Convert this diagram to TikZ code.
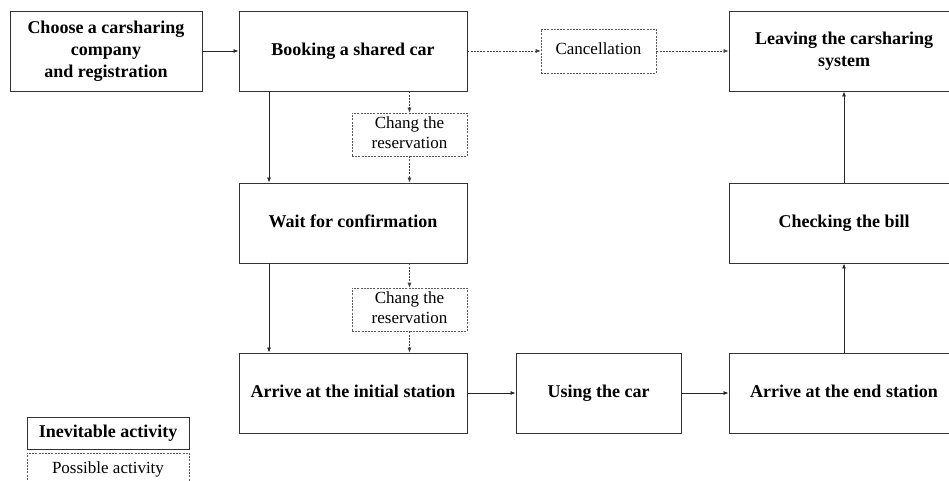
\documentclass[tikz,border=0pt]{standalone}
\usepackage{fontspec}
\setmainfont{Liberation Serif}
\usetikzlibrary{arrows.meta}
\newcommand\mystrut{\rule[-4pt]{0pt}{16pt}}
\begin{document}
\begin{tikzpicture}[x=1pt,y=-1pt,
  solidbox/.style={draw=black!80, line width=0.9pt, rectangle, align=center, inner sep=0pt, font=\fontsize{18}{22}\selectfont\bfseries},
  dashbox/.style={draw=black!65, line width=0.6pt, dash pattern=on 2pt off 1.2pt, rectangle, align=center, inner sep=0pt, font=\fontsize{17}{20}\selectfont},
  arr/.style={draw=black!85, line width=0.8pt, -{Latex[length=5pt,width=4pt]}},
  darr/.style={draw=black!75, line width=0.6pt, dash pattern=on 2pt off 1.2pt, -{Latex[length=5pt,width=4pt]}}
]
\useasboundingbox (0,0) rectangle (949,481);
\begin{scope}
\clip (0,0) rectangle (949,481);
\node[solidbox, minimum width=192pt, minimum height=80pt] (choose) at (106,51) {\mystrut Choose a carsharing\\company\\and registration\mystrut};
\node[solidbox, minimum width=228pt, minimum height=80pt] (book) at (353,51) {\mystrut Booking a shared car};
\node[dashbox, minimum width=115pt, minimum height=44pt] (cancel) at (598.5,51) {\mystrut Cancellation};
\node[solidbox, minimum width=230pt, minimum height=80pt] (leave) at (844,51) {\mystrut Leaving the carsharing\\system\mystrut};
\node[dashbox, minimum width=115pt, minimum height=43pt] (chg1) at (409.5,134.5) {\mystrut Chang the\\reservation\mystrut};
\node[solidbox, minimum width=228pt, minimum height=80pt] (wait) at (353,223) {\mystrut Wait for confirmation};
\node[solidbox, minimum width=230pt, minimum height=80pt] (bill) at (844,223) {\mystrut Checking the bill};
\node[dashbox, minimum width=115pt, minimum height=43pt] (chg2) at (409.5,309.5) {\mystrut Chang the\\reservation\mystrut};
\node[solidbox, minimum width=228pt, minimum height=80pt] (arrini) at (353,393) {\mystrut Arrive at the initial station};
\node[solidbox, minimum width=165pt, minimum height=80pt] (use) at (598.5,393) {\mystrut Using the car};
\node[solidbox, minimum width=230pt, minimum height=80pt] (arrend) at (844,393) {\mystrut Arrive at the end station};
\node[solidbox, minimum width=162pt, minimum height=32pt] (leg1) at (108,433) {\mystrut Inevitable activity};
\node[dashbox, minimum width=162pt, minimum height=32pt] (leg2) at (108,469) {\mystrut Possible activity};
\end{scope}
\draw[arr] (choose) -- (book);
\draw[darr] (book) -- (cancel);
\draw[darr] (cancel) -- (leave.west |- cancel);
\draw[arr] (book.south -| 269,0) -- (wait.north -| 269,0);
\draw[darr] (book.south -| chg1) -- (chg1);
\draw[darr] (chg1) -- (wait.north -| chg1);
\draw[arr] (wait.south -| 269,0) -- (arrini.north -| 269,0);
\draw[darr] (wait.south -| chg2) -- (chg2);
\draw[darr] (chg2) -- (arrini.north -| chg2);
\draw[arr] (arrini) -- (use);
\draw[arr] (use) -- (arrend.west |- use);
\draw[arr] (arrend) -- (bill);
\draw[arr] (bill) -- (leave);
\end{tikzpicture}
\end{document}
